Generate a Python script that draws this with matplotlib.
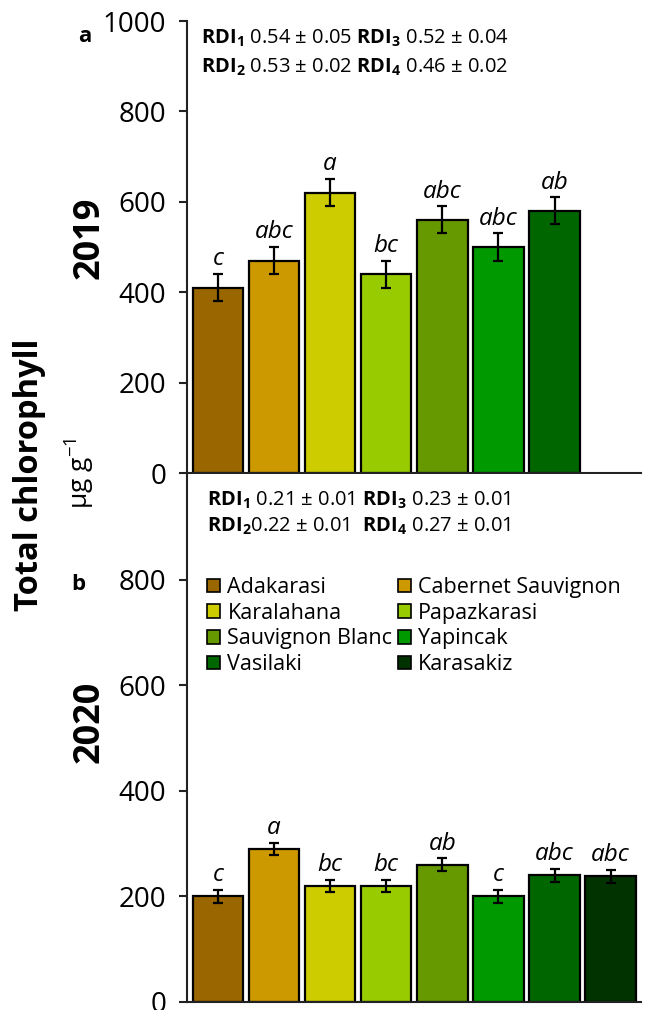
import matplotlib
matplotlib.use('Agg')
import matplotlib.pyplot as plt
from matplotlib.patches import Patch
import numpy as np

plt.rcParams['font.family'] = ['Open Sans', 'DejaVu Sans']
plt.rcParams['mathtext.fontset'] = 'custom'
plt.rcParams['mathtext.rm'] = 'Open Sans'
plt.rcParams['mathtext.bf'] = 'Open Sans:bold'
plt.rcParams['mathtext.it'] = 'Open Sans:italic'

# cultivars and bar colours
cultivars = ['Adakarasi', 'Cabernet Sauvignon', 'Karalahana', 'Papazkarasi',
             'Sauvignon Blanc', 'Yapincak', 'Vasilaki', 'Karasakiz']
colors = ['#996600', '#cc9900', '#cccc00', '#99cc00',
          '#669900', '#009900', '#006600', '#003300']

# 2019 (no Karasakiz)
chl_2019 = [410, 470, 620, 440, 560, 500, 580]
err_2019 = [30, 30, 30, 30, 30, 30, 30]
let_2019 = ['c', 'abc', 'a', 'bc', 'abc', 'abc', 'ab']

# 2020
chl_2020 = [200, 290, 220, 220, 260, 200, 240, 238]
err_2020 = [12, 12, 12, 12, 12, 12, 12, 12]
let_2020 = ['c', 'a', 'bc', 'bc', 'ab', 'c', 'abc', 'abc']

rdi_2019 = [r'$\mathbf{RDI_1}$ 0.54 ± 0.05 $\mathbf{RDI_3}$ 0.52 ± 0.04',
            r'$\mathbf{RDI_2}$ 0.53 ± 0.02 $\mathbf{RDI_4}$ 0.46 ± 0.02']
rdi_2020 = [r'$\mathbf{RDI_1}$ 0.21 ± 0.01 $\mathbf{RDI_3}$ 0.23 ± 0.01',
            r'$\mathbf{RDI_2}$0.22 ± 0.01  $\mathbf{RDI_4}$ 0.27 ± 0.01']

W, H = 645, 1010


def fx(x):
    return x / W


def fy(y):
    return 1 - y / H


fig = plt.figure(figsize=(W / 100, H / 100), dpi=100)
ax1 = fig.add_axes([fx(187), fy(473), (641 - 187) / W, (473 - 21) / H])
ax2 = fig.add_axes([fx(187), fy(1002), (641 - 187) / W, (1002 - 474) / H])


def draw_panel(ax, vals, errs, letters, ticks):
    x = np.arange(len(vals))
    ax.bar(x, vals, width=0.9, color=colors[:len(vals)], edgecolor='black',
           linewidth=1.6, zorder=2)
    ax.errorbar(x, vals, yerr=errs, fmt='none', ecolor='black', elinewidth=1.6,
                capsize=3.5, capthick=1.6, zorder=3)
    for xi, v, e, t in zip(x, vals, errs, letters):
        ax.annotate(t, (xi, v + e), xytext=(0, 2), textcoords='offset points',
                    ha='center', va='bottom', fontsize=17.5, style='italic')
    ax.set_xlim(-0.55, 7.54)
    ax.set_ylim(0, 1000)
    ax.set_yticks(ticks)
    ax.set_xticks([])
    for s in ['top', 'right']:
        ax.spines[s].set_visible(False)
    for s in ['left', 'bottom']:
        ax.spines[s].set_linewidth(1.5)
        ax.spines[s].set_color('#222222')
    ax.tick_params(axis='y', direction='out', length=6, width=1.5,
                   labelsize=20, pad=9, color='#222222')


draw_panel(ax1, chl_2019, err_2019, let_2019, [0, 200, 400, 600, 800, 1000])
draw_panel(ax2, chl_2020, err_2020, let_2020, [0, 200, 400, 600, 800])

# RDI annotations
for i, s in enumerate(rdi_2019):
    fig.text(fx(201), fy(38 + 29 * i), s, fontsize=14.5, va='center', ha='left')
for i, s in enumerate(rdi_2020):
    fig.text(fx(207), fy(500 + 26 * i), s, fontsize=14.5, va='center', ha='left')

# panel letters and years
fig.text(fx(85), fy(36), 'a', fontsize=16, fontweight='bold', ha='center', va='center')
fig.text(fx(78), fy(585), 'b', fontsize=16, fontweight='bold', ha='center', va='center')
fig.text(fx(90), fy(238), '2019', fontsize=26, fontweight='bold', rotation=90,
         ha='center', va='center')
fig.text(fx(90), fy(722), '2020', fontsize=26, fontweight='bold', rotation=90,
         ha='center', va='center')
fig.text(fx(30), fy(475), 'Total chlorophyll', fontsize=23.5, fontweight='bold',
         rotation=90, ha='center', va='center')
fig.text(fx(80), fy(473), r'μg g$^{-1}$', fontsize=19, rotation=90,
         ha='center', va='center')

# legend, two columns filled row by row
order = [0, 2, 4, 6, 1, 3, 5, 7]
handles = [Patch(facecolor=colors[i], edgecolor='black', linewidth=1.2) for i in order]
labels = [cultivars[i] for i in order]
fig.legend(handles, labels, ncol=2, loc='upper left',
           bbox_to_anchor=(fx(207), fy(577)), frameon=False, fontsize=15.5,
           handlelength=0.6, handleheight=0.6, handletextpad=0.35,
           columnspacing=0.25, labelspacing=0.22, borderpad=0, borderaxespad=0)

fig.savefig('out.png', dpi=100)
